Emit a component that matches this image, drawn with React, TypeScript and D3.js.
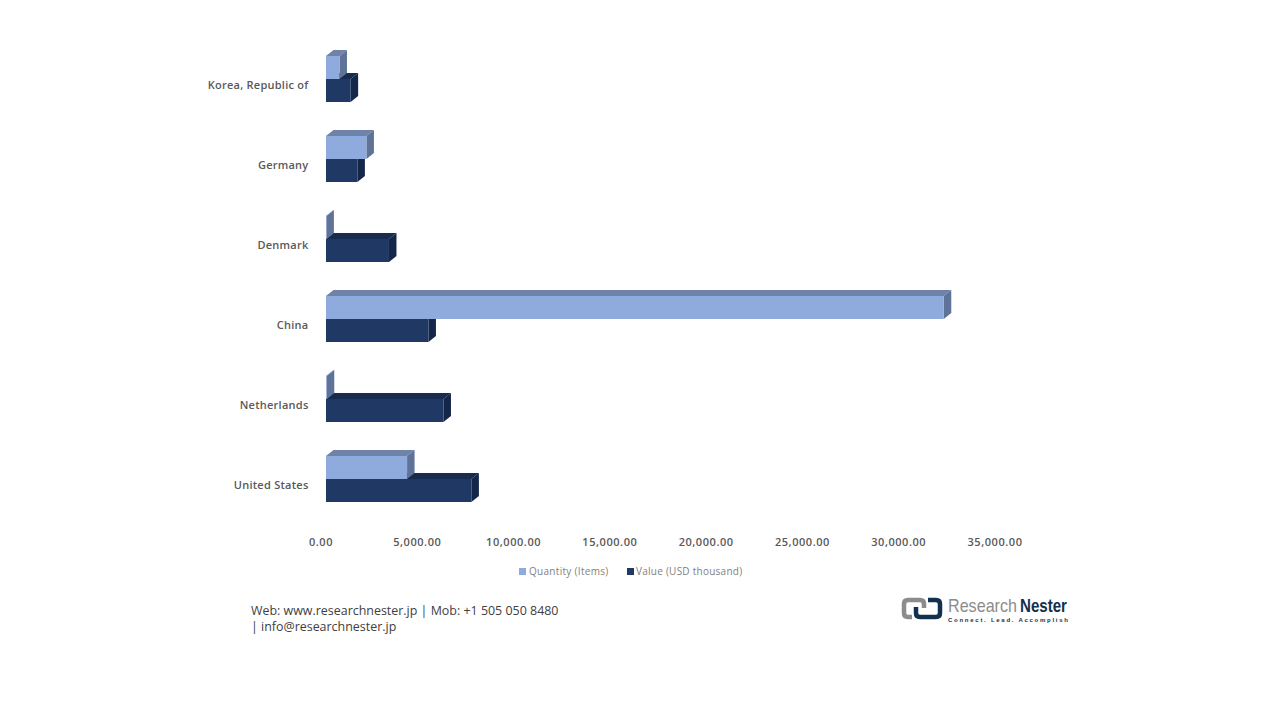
import * as d3 from 'd3'

const categories = ['Korea, Republic of', 'Germany', 'Denmark', 'China', 'Netherlands', 'United States']
const quantity = [700, 2100, 20, 32080, 40, 4210]
const valueUsd = [1280, 1630, 3270, 5320, 6100, 7550]
const xTicks = [0, 5000, 10000, 15000, 20000, 25000, 30000, 35000]

const DEPTH_X = 7.5
const DEPTH_Y = 6
const FONT = '"Open Sans", "Noto Sans", sans-serif'
const LOGO_FONT = '"Liberation Sans Narrow", "Liberation Sans", sans-serif'

const x = d3.scaleLinear().domain([0, 35000]).range([326, 1000])
const y = d3.scaleBand<string>().domain(categories).range([39, 519]).paddingInner(0.425).paddingOuter(0.2125)
const fmt = d3.format(',.2f')

const COLORS = {
  quantity: { front: '#8faadc', top: '#6f83a8', side: '#5f7399' },
  value: { front: '#1f3864', top: '#182c50', side: '#14264a' },
}

type BarProps = { x0: number; x1: number; y0: number; y1: number; colors: { front: string; top: string; side: string } }

function Bar3d({ x0, x1, y0, y1, colors }: BarProps) {
  const top = `M${x0},${y0}L${x0 + DEPTH_X},${y0 - DEPTH_Y}L${x1 + DEPTH_X},${y0 - DEPTH_Y}L${x1},${y0}Z`
  const side = `M${x1},${y0}L${x1 + DEPTH_X},${y0 - DEPTH_Y}L${x1 + DEPTH_X},${y1 - DEPTH_Y}L${x1},${y1}Z`
  return (
    <g>
      <path d={top} fill={colors.top} />
      <path d={side} fill={colors.side} />
      <rect x={x0} y={y0} width={x1 - x0} height={y1 - y0} fill={colors.front} />
    </g>
  )
}

function Logo() {
  return (
    <g>
      <path d="M912,617H908Q904,617 904,613V604Q904,600 908,600H920Q924,600 924,604V608" fill="none" stroke="#8c8c8c" strokeWidth={4.5} />
      <path d="M916,607V613Q916,617 920,617H936Q940,617 940,613V604Q940,600 936,600H928" fill="none" stroke="#14304f" strokeWidth={4.5} />
      <text x={948} y={612} textLength={69} lengthAdjust="spacingAndGlyphs" fontFamily={LOGO_FONT} fontSize={19} fill="#8c8c8c">Research</text>
      <text x={1020} y={612} textLength={47} lengthAdjust="spacingAndGlyphs" fontFamily={LOGO_FONT} fontSize={19} fontWeight={700} fill="#14304f">Nester</text>
      <text x={948} y={621.5} textLength={120} lengthAdjust="spacing" fontFamily="Liberation Sans" fontSize={6} fontWeight={700} fill="#14304f">Connect. Lead. Accomplish</text>
    </g>
  )
}

export default function App() {
  const band = y.bandwidth() / 2
  return (
    <svg width={1280} height={720} style={{ position: 'absolute', left: 0, top: 0, background: '#fff' }}>
      {categories.map((c, i) => {
        const top = y(c) as number
        const mid = top + band
        const bottom = mid + band
        return (
          <g key={c}>
            <Bar3d x0={x(0)} x1={x(valueUsd[i])} y0={mid} y1={bottom} colors={COLORS.value} />
            <Bar3d x0={x(0)} x1={x(quantity[i])} y0={top} y1={mid} colors={COLORS.quantity} />
            <text x={308.5} y={mid + 6} dy="0.35em" textAnchor="end" fontFamily={FONT} fontSize={11} fontWeight={600} letterSpacing={0.25} fill="#595959">{c}</text>
          </g>
        )
      })}
      {xTicks.map((t) => (
        <text key={t} x={x(t) - 5} y={546} textAnchor="middle" fontFamily={FONT} fontSize={11} fontWeight={600} letterSpacing={0.55} fill="#595959">{fmt(t)}</text>
      ))}
      <rect x={519} y={568} width={7} height={7} fill={COLORS.quantity.front} />
      <text x={529} y={575} fontFamily={FONT} fontSize={10} letterSpacing={0.3} fill="#7f7f7f">Quantity (Items)</text>
      <rect x={627} y={568} width={7} height={7} fill={COLORS.value.front} />
      <text x={636} y={575} fontFamily={FONT} fontSize={10} letterSpacing={0.25} fill="#7f7f7f">Value (USD thousand)</text>
      <text x={251} y={615} fontFamily={FONT} fontSize={12.45} fill="#404040">Web: www.researchnester.jp | Mob: +1 505 050 8480</text>
      <text x={251} y={631} fontFamily={FONT} fontSize={12.45} fill="#404040">| info@researchnester.jp</text>
      <Logo />
    </svg>
  )
}
